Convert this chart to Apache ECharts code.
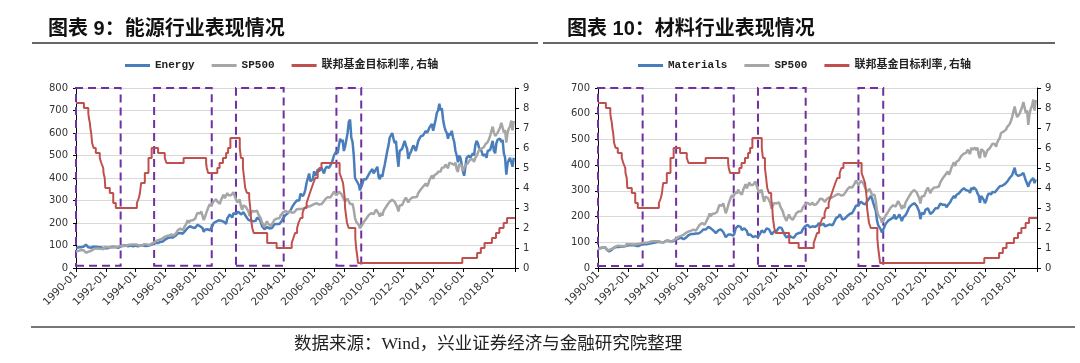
<!DOCTYPE html>
<html><head><meta charset="utf-8">
<script src="https://cdn.jsdelivr.net/npm/echarts@6/dist/echarts.min.js"></script>
<style>html,body{margin:0;padding:0;background:#fff}#c{width:1080px;height:363px}</style>
</head><body><div id="c"></div>
<script>
// ---------------- DATA ----------------
const seriesStart = '1990-01'; // monthly series start (one value per month)
const xTickYears = [1990,1992,1994,1996,1998,2000,2002,2004,2006,2008,2010,2012,2014,2016,2018];

const energy = [
 88,90,92,88,92,90,94,100,104,96,92,92,
 90,92,95,92,94,90,92,93,92,91,88,90,
 88,90,88,90,93,92,94,92,93,92,90,92,
 95,97,100,100,100,98,97,102,100,103,97,96,
 100,98,96,99,100,98,100,100,98,101,99,98,
 102,105,106,110,112,112,111,113,116,112,118,124,
 127,128,133,136,136,138,135,138,142,146,154,152,
 156,154,152,158,165,168,178,176,186,182,180,182,
 178,186,192,194,186,184,178,160,170,176,172,170,
 168,168,186,200,200,206,206,212,206,210,202,206,
 200,196,220,224,238,230,224,244,250,240,236,250,
 246,238,230,248,246,230,222,214,206,210,205,208,
 204,210,224,218,216,204,186,188,172,178,182,180,
 176,174,178,184,194,196,196,200,196,204,210,222,
 226,236,236,244,246,256,268,264,286,292,300,294,
 300,330,335,320,330,350,380,400,420,385,390,395,
 430,410,420,440,430,430,445,440,420,440,450,455,
 445,450,465,480,500,510,520,510,545,575,560,570,
 520,540,540,600,650,660,580,560,500,400,390,380,
 370,345,350,375,395,390,395,400,415,425,430,440,
 420,430,440,450,405,395,415,405,435,460,490,520,
 545,580,590,600,575,555,565,500,450,520,525,530,
 530,565,545,530,485,505,515,530,545,535,520,525,
 565,570,585,580,590,585,610,600,610,625,630,640,
 610,635,660,690,700,730,700,710,660,630,610,600,
 575,600,590,610,580,560,520,500,470,500,490,460,
 430,410,450,490,490,500,490,500,510,500,545,565,
 555,535,530,520,500,500,505,490,520,520,525,545,
 565,520,510,555,570,575,575,560,570,510,490,415,
 465,480,490,490,450,490
];

const materials = [
 78,76,78,76,80,80,80,72,66,64,68,70,
 74,80,82,82,84,82,84,84,83,84,80,86,
 88,88,86,88,90,88,88,86,86,86,90,92,
 92,92,94,92,94,94,94,96,96,98,96,100,
 104,102,100,100,102,100,104,106,104,106,100,102,
 104,106,108,110,112,114,118,118,118,112,116,118,
 124,128,128,132,136,132,128,134,134,134,140,140,
 144,150,148,150,156,160,162,154,156,146,142,136,
 140,146,150,150,146,140,138,120,124,130,134,130,
 128,126,134,154,158,164,162,160,148,150,154,156,
 144,128,126,130,128,120,118,124,118,120,126,136,
 146,148,138,146,154,148,150,146,130,134,142,146,
 144,150,158,156,156,150,134,134,118,122,126,124,
 120,118,118,124,132,132,136,142,138,150,154,162,
 162,168,164,158,158,162,162,160,164,166,174,176,
 168,172,172,162,166,166,172,170,170,166,174,178,
 194,196,200,208,200,188,190,192,192,202,208,210,
 214,214,220,232,242,244,244,244,258,262,250,256,
 248,260,256,272,280,270,252,250,222,184,166,160,
 150,138,144,160,172,172,184,188,190,186,196,208,
 190,192,200,208,196,182,196,194,206,214,220,236,
 238,246,248,252,246,242,236,220,190,214,210,210,
 226,232,232,228,210,216,218,222,232,230,232,238,
 250,244,246,240,246,236,244,246,256,266,270,280,
 272,284,286,290,296,302,302,310,304,302,304,300,
 292,312,304,314,316,304,290,282,254,280,282,266,
 252,262,280,290,284,286,296,294,294,290,306,308,
 318,320,320,322,326,330,336,338,350,356,362,368,
 390,366,360,358,364,362,368,370,368,340,346,316,
 332,340,340,350,330,345
];

const sp500 = [
 73,74,76,74,80,80,79,72,68,68,72,73,
 76,82,83,83,87,82,86,88,86,87,83,93,
 91,92,90,92,92,91,94,92,93,93,96,97,
 98,98,100,98,100,100,100,103,102,104,103,104,
 107,104,99,100,102,99,102,106,103,105,101,102,
 104,108,111,114,118,121,125,125,130,129,134,137,
 141,142,144,145,149,149,142,145,153,157,168,165,
 175,176,168,178,188,197,212,200,210,203,212,216,
 218,233,245,247,242,252,249,213,226,244,259,273,
 284,275,286,297,289,305,295,293,285,303,309,326,
 310,304,333,323,316,323,318,337,319,318,292,293,
 304,276,258,278,279,272,269,252,231,236,253,255,
 251,246,255,239,237,220,203,204,183,197,208,196,
 190,187,188,204,214,217,220,224,221,234,235,247,
 251,254,250,246,249,254,245,245,248,251,261,269,
 262,268,262,257,265,265,274,271,273,268,278,277,
 284,285,288,291,282,282,284,290,297,306,311,315,
 320,313,316,329,340,334,323,328,339,344,329,326,
 306,296,294,308,311,284,282,285,259,222,205,205,
 192,176,180,194,204,204,219,227,235,230,244,248,
 239,245,260,264,242,229,245,233,254,263,262,280,
 286,295,295,303,299,294,287,271,251,278,277,280,
 292,304,313,311,291,303,306,313,320,314,315,317,
 333,337,349,355,362,357,375,363,374,390,401,411,
 396,413,416,419,428,436,429,445,438,448,460,458,
 443,468,460,464,468,458,468,438,427,462,462,454,
 431,429,458,459,466,466,483,482,482,472,489,498,
 506,525,525,530,536,538,549,549,560,572,588,594,
 628,603,587,588,601,604,626,645,648,603,613,557,
 601,619,630,655,612,654
];

// Fed funds target rate: change dates and new levels (right axis, %)
const fedDates = ['1990-01-01','1990-07-13','1990-10-29','1990-11-13','1990-12-07','1990-12-18','1991-01-08','1991-02-01','1991-03-08','1991-04-30','1991-08-06','1991-09-13','1991-10-31','1991-11-06','1991-12-06','1991-12-20','1992-04-09','1992-07-02','1992-09-04','1994-02-04','1994-03-22','1994-04-18','1994-05-17','1994-08-16','1994-11-15','1995-02-01','1995-07-06','1995-12-19','1996-01-31','1997-03-25','1998-09-29','1998-10-15','1998-11-17','1999-06-30','1999-08-24','1999-11-16','2000-02-02','2000-03-21','2000-05-16','2001-01-03','2001-01-31','2001-03-20','2001-04-18','2001-05-15','2001-06-27','2001-08-21','2001-09-17','2001-10-02','2001-11-06','2001-12-11','2002-11-06','2003-06-25','2004-06-30','2004-08-10','2004-09-21','2004-11-10','2004-12-14','2005-02-02','2005-03-22','2005-05-03','2005-06-30','2005-08-09','2005-09-20','2005-11-01','2005-12-13','2006-01-31','2006-03-28','2006-05-10','2006-06-29','2007-09-18','2007-10-31','2007-12-11','2008-01-22','2008-01-30','2008-03-18','2008-04-30','2008-10-08','2008-10-29','2008-12-16','2015-12-16','2016-12-14','2017-03-15','2017-06-14','2017-12-13','2018-03-21','2018-06-13','2018-09-26','2018-12-19','2019-06-30'];
const fedRates = [8.25,8.0,7.75,7.5,7.25,7.0,6.75,6.25,6.0,5.75,5.5,5.25,5.0,4.75,4.5,4.0,3.75,3.25,3.0,3.25,3.5,3.75,4.25,4.75,5.5,6.0,5.75,5.5,5.25,5.5,5.25,5.0,4.75,5.0,5.25,5.5,5.75,6.0,6.5,6.0,5.5,5.0,4.5,4.0,3.75,3.5,3.0,2.5,2.0,1.75,1.25,1.0,1.25,1.5,1.75,2.0,2.25,2.5,2.75,3.0,3.25,3.5,3.75,4.0,4.25,4.5,4.75,5.0,5.25,4.75,4.5,4.25,3.5,3.0,2.25,2.0,1.5,1.0,0.25,0.5,0.75,1.0,1.25,1.5,1.75,2.0,2.25,2.5,2.5];

// Highlighted easing periods (dashed boxes)
const cutPeriods = [['1990-01-01','1993-01-01'],['1995-04-01','1999-02-15'],['2000-10-01','2003-12-15'],['2007-07-01','2009-03-01']];
const boxBottom = [10, 8];   // lower edge of boxes on each chart's left axis
const axisMaxLeft = [800, 700];

// ---------------- HELPERS ----------------
function ym(s){ const p=s.split('-').map(Number); return p[0]+(p[1]-1)/12+((p[2]||1)-1)/365; }
const x0 = ym(seriesStart);
const monthly = arr => arr.map((v,i)=>[x0+i/12, v]);
const fedData = fedDates.map((d,i)=>[ym(d), fedRates[i]]);

const C_BLUE='#4a7ebb', C_GRAY='#a6a6a6', C_RED='#c0504d', C_PURPLE='#7030a0';
const FED_NAME='联邦基金目标利率,右轴';
const lblFont = 'DejaVu Sans';

function xAxis(gi){ return {type:'value', gridIndex:gi, min:1990, max:2019.5, interval:2,
  axisLine:{lineStyle:{color:'#000',width:1}}, axisTick:{length:4,lineStyle:{color:'#000'}},
  splitLine:{show:false},
  axisLabel:{rotate:45, fontSize:10.5, color:'#333', fontFamily:lblFont, margin:5,
    formatter: v => xTickYears.includes(v) ? v+'-01' : ''}}; }
function yLeft(gi,max){ return {type:'value', gridIndex:gi, min:0, max:max, interval:100,
  axisLine:{show:true,lineStyle:{color:'#000'}}, axisTick:{show:true,length:3,lineStyle:{color:'#000'}},
  splitLine:{lineStyle:{color:'#d9d9d9',width:1}},
  axisLabel:{fontSize:10, color:'#333', fontFamily:lblFont, margin:8}}; }
function yRight(gi){ return {type:'value', gridIndex:gi, position:'right', min:0, max:9, interval:1,
  axisLine:{show:true,lineStyle:{color:'#000'}}, axisTick:{show:true,length:4,lineStyle:{color:'#000'}},
  splitLine:{show:false},
  axisLabel:{fontSize:10, color:'#333', fontFamily:lblFont, margin:8}}; }

function boxes(gi){ return {silent:true,
  itemStyle:{color:'rgba(0,0,0,0)', borderColor:C_PURPLE, borderWidth:2, borderType:[8,5]},
  data: cutPeriods.map(p=>[{xAxis:ym(p[0]), yAxis:boxBottom[gi]},{xAxis:ym(p[1]), yAxis:axisMaxLeft[gi]}])}; }

function line(name, data, xi, yi, color, w, extra){ return Object.assign({name:name, type:'line', xAxisIndex:xi, yAxisIndex:yi,
  data:data, showSymbol:false, symbol:'none', lineStyle:{color:color,width:w}, itemStyle:{color:color}, z:3}, extra||{}); }

const legendStyle = {fontSize:11, fontWeight:'bold', color:'#222', fontFamily:"'Liberation Mono','Noto Sans CJK SC'"};
const titleStyle = {fontSize:20, fontWeight:'bold', color:'#111', fontFamily:"'Liberation Sans','Noto Sans CJK SC'"};

const option = {
  animation:false,
  title:[
    {text:'图表 9：能源行业表现情况', left:43, top:14, textStyle:titleStyle},
    {text:'图表 10：材料行业表现情况', left:562, top:14, textStyle:titleStyle},
    {text:'数据来源：Wind，兴业证券经济与金融研究院整理', left:289, top:331, textStyle:{fontSize:17.5, fontWeight:'normal', color:'#222', fontFamily:"'Liberation Serif','Noto Sans CJK SC'"}}
  ],
  legend:[
    {data:['Energy','SP500',FED_NAME], left:120, top:55, itemWidth:25, itemHeight:3, itemGap:17, icon:'rect', textStyle:legendStyle, selectedMode:false},
    {data:['Materials','SP500',FED_NAME], left:633, top:55, itemWidth:25, itemHeight:3, itemGap:17, icon:'rect', textStyle:legendStyle, selectedMode:false}
  ],
  grid:[{left:76, top:88, width:439, height:180},{left:598, top:88, width:439, height:180}],
  xAxis:[xAxis(0), xAxis(1)],
  yAxis:[yLeft(0,800), yRight(0), yLeft(1,700), yRight(1)],
  graphic:[
    {type:'line', shape:{x1:32,y1:43,x2:538,y2:43}, style:{stroke:'#333',lineWidth:1.5}},
    {type:'line', shape:{x1:543,y1:43,x2:1055,y2:43}, style:{stroke:'#333',lineWidth:1.5}},
    {type:'line', shape:{x1:31,y1:327,x2:1075,y2:327}, style:{stroke:'#777',lineWidth:2}}
  ],
  series:[
    line('Energy', monthly(energy), 0, 0, C_BLUE, 2.5, {markArea:boxes(0)}),
    line('SP500', monthly(sp500), 0, 0, C_GRAY, 2.5),
    line(FED_NAME, fedData, 0, 1, C_RED, 2, {step:'end'}),
    line('Materials', monthly(materials), 1, 2, C_BLUE, 2.5, {markArea:boxes(1)}),
    line('SP500', monthly(sp500), 1, 2, C_GRAY, 2.5),
    line(FED_NAME, fedData, 1, 3, C_RED, 2, {step:'end'})
  ]
};
echarts.init(document.getElementById('c')).setOption(option);
</script></body></html>
